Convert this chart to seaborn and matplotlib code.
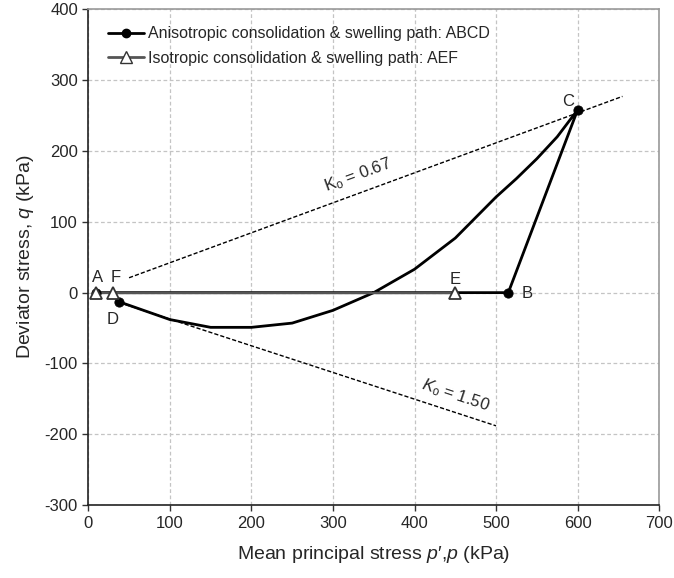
import numpy as np
import pandas as pd
import seaborn as sns
from matplotlib import pyplot as plt
from matplotlib.lines import Line2D

# anisotropic consolidation & swelling path A-B-C-...-D
aniso_p = [10, 515, 600, 575, 550, 525, 500, 450, 400, 350, 300, 250, 200, 150, 100, 38]
aniso_q = [0, 0, 258, 220, 189, 161, 135, 77, 33, 0, -25, -43, -49, -49, -38, -13]
aniso_pts_p = [10, 515, 600, 38]
aniso_pts_q = [0, 0, 258, -13]

# isotropic consolidation & swelling path A-E-F
iso_p = [10, 450, 30]
iso_q = [0, 0, 0]

# K0 lines
k067_p = [50, 655]
k067_q = [21, 277]
k150_p = [38, 500]
k150_q = [-14, -188]

point_labels = ["A", "F", "D", "E", "B", "C"]
label_p = [11, 34, 30, 450, 538, 588]
label_q = [21, 21, -38, 19, -1, 270]


def main():
    sns.set_theme(style="white")
    plt.rcParams['font.family'] = ['Liberation Sans', 'DejaVu Sans']
    plt.rcParams['mathtext.fontset'] = 'custom'
    plt.rcParams['mathtext.rm'] = 'Liberation Sans'
    plt.rcParams['mathtext.it'] = 'Liberation Sans:italic'
    plt.rcParams['axes.unicode_minus'] = False

    fig = plt.figure(figsize=(6.74, 5.78), dpi=100)
    ax = fig.add_axes([0.131, 0.126, 0.847, 0.858])

    ax.grid(True, color='#c4c4c4', linestyle=(0, (3, 2)), linewidth=0.9)

    df_a = pd.DataFrame({"p": aniso_p, "q": aniso_q})
    sns.lineplot(x="p", y="q", data=df_a, sort=False, estimator=None,
                 color='black', linewidth=2, ax=ax)
    sns.scatterplot(x=aniso_pts_p, y=aniso_pts_q, color='black', s=45,
                    edgecolor='black', ax=ax, zorder=5)

    df_i = pd.DataFrame({"p": iso_p, "q": iso_q})
    sns.lineplot(x="p", y="q", data=df_i, sort=False, estimator=None,
                 color='#555555', linewidth=1.6, ax=ax)
    ax.plot(iso_p, iso_q, linestyle='none', marker='^', markersize=9,
            markerfacecolor='white', markeredgecolor='#333333',
            markeredgewidth=1.3, zorder=6)

    sns.lineplot(x=k067_p, y=k067_q, color='black', linewidth=1,
                 linestyle=(0, (3, 1.5)), ax=ax)
    sns.lineplot(x=k150_p, y=k150_q, color='black', linewidth=1,
                 linestyle=(0, (3, 1.5)), ax=ax)

    ax.text(331, 166, "K$_{\\rm o}$ = 0.67", fontsize=12, rotation=20,
            ha='center', va='center')
    ax.text(450, -145, "$K_{\\rm o}$ = 1.50", fontsize=12, rotation=-18.5,
            ha='center', va='center')

    for lab, px, qy in zip(point_labels, label_p, label_q):
        ax.text(px, qy, lab, fontsize=12, ha='center', va='center')

    ax.set_xlim(0, 700)
    ax.set_ylim(-300, 400)
    ax.set_xticks(np.arange(0, 701, 100))
    ax.set_yticks(np.arange(-300, 401, 100))
    ax.tick_params(axis='both', labelsize=12, direction='out', length=4,
                   width=1, color='#333333', left=True, bottom=True)
    ax.set_xlabel("Mean principal stress $p$\u2032,$p$ (kPa)", fontsize=14,
                  labelpad=10)
    ax.set_ylabel("Deviator stress, $q$ (kPa)", fontsize=14, labelpad=6)

    for side in ['left', 'bottom']:
        ax.spines[side].set_color('#222222')
        ax.spines[side].set_linewidth(1.2)
    for side in ['top', 'right']:
        ax.spines[side].set_color('#999999')
        ax.spines[side].set_linewidth(1.2)

    handles = [
        Line2D([], [], color='black', linewidth=2, marker='o', markersize=6),
        Line2D([], [], color='#555555', linewidth=2, marker='^', markersize=9,
               markerfacecolor='white', markeredgecolor='#333333'),
    ]
    ax.legend(handles, ["Anisotropic consolidation & swelling path: ABCD",
                        "Isotropic consolidation & swelling path: AEF"],
              loc='upper left', bbox_to_anchor=(0.01, 0.995), frameon=False,
              fontsize=11.5, handlelength=2.2, handletextpad=0.3,
              labelspacing=0.6)

    fig.savefig("out.png", dpi=100)


if __name__ == '__main__':
    main()
